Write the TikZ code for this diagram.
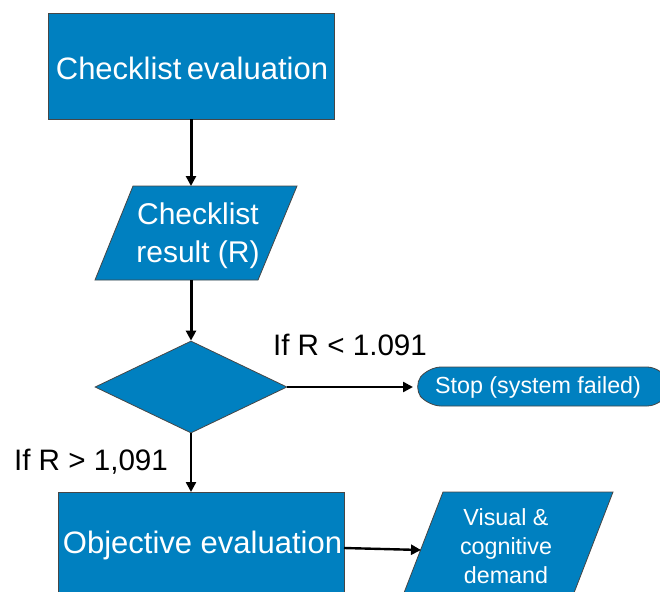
\documentclass[tikz,border=0pt]{standalone}
\usepackage{fontspec}
\setmainfont{Liberation Sans}
\usetikzlibrary{shapes.geometric,arrows.meta}
\definecolor{flowblue}{RGB}{0,128,192}
\definecolor{edgegray}{RGB}{70,70,70}
\tikzset{
  shapefill/.style={fill=flowblue, draw=edgegray, line width=0.8pt},
  procbox/.style={shapefill, rectangle, inner sep=0pt, text=white},
  bigtext/.style={font=\fontsize{31}{38}\selectfont},
  midtext/.style={font=\fontsize{30}{38}\selectfont},
  smalltext/.style={font=\fontsize{23.3}{29}\selectfont},
  whitetext/.style={text=white, align=center, inner sep=0pt},
  flowarrow/.style={-{Triangle[length=10pt,width=10pt]}, line width=3pt},
  thinarrow/.style={-{Triangle[length=10pt,width=10pt]}, line width=2.4pt},
  condlabel/.style={font=\fontsize{29.6}{34}\selectfont, inner sep=0pt}
}
\begin{document}
\begin{tikzpicture}[x=1pt, y=-1pt]
\useasboundingbox (0,0) rectangle (660,591);
\begin{scope}
\clip (0,0) rectangle (660,591);

% checklist evaluation box
\node[procbox, minimum width=286pt, minimum height=106pt, bigtext] (eval) at (191,66) {};
\node[whitetext, bigtext] (evaltext) at (192,68) {Checklist\,evaluation};

% checklist result, a parallelogram
\filldraw[shapefill] (133,186) -- (297,186) -- (258,280) -- (95,280) -- cycle;
\node[whitetext, midtext] (res) at (198,236) {Checklist\\result (R)};
\coordinate (resTop) at (191,186);
\coordinate (resBot) at (191,280);

% decision
\node[shapefill, diamond, aspect=2.087, minimum width=192pt, minimum height=92pt, inner sep=0pt] (dec) at (191,387) {};

% stop terminal
\filldraw[shapefill, rounded corners=13pt] (428,367) -- (660,367) -- (672,387) -- (660,406) -- (428,406) -- (413,387) -- cycle;
\node[whitetext, smalltext] (stop) at (538,387) {Stop (system failed)};
\coordinate (stopIn) at (413,387);

% objective evaluation box
\node[procbox, minimum width=286pt, minimum height=106pt, anchor=north] (obj) at (201,492) {};
\node[whitetext, bigtext] (objtext) at (202.5,545) {Objective evaluation};
\coordinate (objOut) at (344,548);

% visual and cognitive demand, a parallelogram
\filldraw[shapefill] (443,492) -- (613,492) -- (572,598) -- (402,598) -- cycle;
\node[whitetext, smalltext] (vcd) at (506,546) {Visual \&\\cognitive\\demand};
\coordinate (vcdIn) at (421,550);

% connectors
\draw[flowarrow] (eval.south) -- (resTop);
\draw[flowarrow] (resBot) -- (dec.north);
\draw[thinarrow] (dec.east) -- (stopIn);
\draw[thinarrow] (dec.south) -- (obj.north -| dec.south);
\draw[thinarrow] (objOut) -- (vcdIn);

% condition labels
\node[condlabel] (ltlabel) at (350,345) {If R < 1.091};
\node[condlabel] (gtlabel) at (91,462) {If R > 1,091};
\end{scope}
\end{tikzpicture}
\end{document}
